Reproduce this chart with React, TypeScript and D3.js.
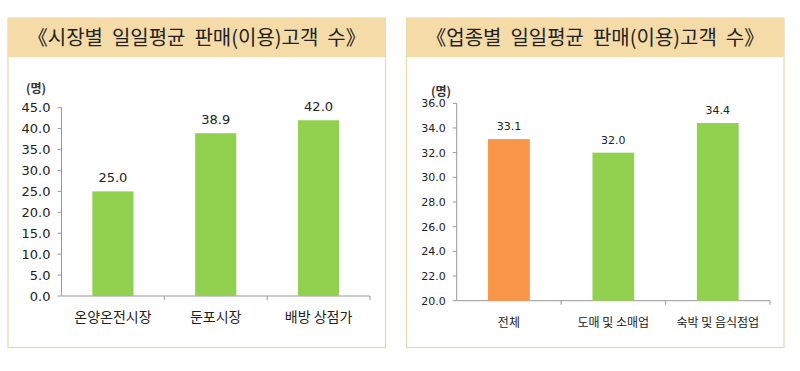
import React from "react";
import * as d3 from "d3";

const leftTitle = "《시장별  일일평균  판매(이용)고객  수》";
const leftCategories = ["온양온전시장", "둔포시장", "배방 상점가"];
const leftValues = [25.0, 38.9, 42.0];
const leftTicks = [0, 5, 10, 15, 20, 25, 30, 35, 40, 45];

const rightTitle = "《업종별  일일평균  판매(이용)고객  수》";
const rightCategories = ["전체", "도매 및 소매업", "숙박 및 음식점업"];
const rightValues = [33.1, 32.0, 34.4];
const rightTicks = [20, 22, 24, 26, 28, 30, 32, 34, 36];
const rightColors = ["#F79646", "#92D050", "#92D050"];

const KR = "'Noto Sans CJK KR', 'Noto Sans', sans-serif";
const NUM = "'DejaVu Sans', Verdana, sans-serif";

type PanelProps = {
  x0: number;
  x1: number;
  title: string;
  categories: string[];
  values: number[];
  ticks: number[];
  colors: string[];
  axisX: number;
  axisEnd: number;
  yTop: number;
  yBottom: number;
  tickFont: number;
  valFont: number;
  catFont: number;
  unitX: number;
  unitY: number;
};

function Panel(p: PanelProps) {
  const domain = [p.ticks[0], p.ticks[p.ticks.length - 1]];
  const y = d3.scaleLinear().domain(domain).range([p.yBottom, p.yTop]);
  const x = d3
    .scaleBand<string>()
    .domain(p.categories)
    .range([p.axisX, p.axisEnd])
    .paddingInner(0.6)
    .paddingOuter(0.3);
  const step = x.step();
  const bandStart = p.axisX;
  const fmt = d3.format(".1f");
  return (
    <g>
      <rect x={p.x0} y={18} width={p.x1 - p.x0} height={329.5} fill="#fff" stroke="#E9D6AA" strokeWidth={1.2} />
      <rect x={p.x0} y={18} width={p.x1 - p.x0} height={39} fill="#F5DBA8" />
      <text
        x={(p.x0 + p.x1) / 2}
        y={45}
        textAnchor="middle"
        fontFamily={KR}
        fontSize={20}
        fill="#222"
        style={{ whiteSpace: "pre" }}
      >
        {p.title}
      </text>
      <text x={p.unitX} y={p.unitY} fontFamily={KR} fontSize={12} fontWeight="bold" fill="#333">
        (명)
      </text>
      {/* y axis */}
      <line x1={p.axisX} x2={p.axisX} y1={p.yTop} y2={p.yBottom} stroke="#999" />
      {p.ticks.map((t) => (
        <g key={t}>
          <line x1={p.axisX - 4} x2={p.axisX} y1={y(t)} y2={y(t)} stroke="#999" />
          <text
            x={p.axisX - 11}
            y={y(t)}
            dy="0.35em"
            textAnchor="end"
            fontFamily={NUM}
            fontSize={p.tickFont}
            fill="#222"
          >
            {fmt(t)}
          </text>
        </g>
      ))}
      {/* x axis */}
      <line x1={p.axisX} x2={p.axisEnd} y1={p.yBottom} y2={p.yBottom} stroke="#999" />
      {p.categories.map((c, i) => (
        <line
          key={"t" + c}
          x1={bandStart + step * (i + 1)}
          x2={bandStart + step * (i + 1)}
          y1={p.yBottom}
          y2={p.yBottom + 4}
          stroke="#999"
        />
      ))}
      {p.categories.map((c, i) => {
        const bx = x(c) as number;
        const by = y(p.values[i]);
        const cx = bx + x.bandwidth() / 2;
        return (
          <g key={c}>
            <rect x={bx} y={by} width={x.bandwidth()} height={p.yBottom - by} fill={p.colors[i]} />
            <text
              x={cx}
              y={by - 9}
              textAnchor="middle"
              fontFamily={NUM}
              fontSize={p.valFont}
              fill="#222"
            >
              {fmt(p.values[i])}
            </text>
            <text
              x={cx}
              y={p.yBottom + 26}
              textAnchor="middle"
              fontFamily={KR}
              fontSize={p.catFont}
              fill="#222"
            >
              {c}
            </text>
          </g>
        );
      })}
    </g>
  );
}

export default function App() {
  return (
    <svg
      width={800}
      height={371}
      style={{ position: "absolute", left: 0, top: 0, background: "#fff" }}
    >
      <rect x={0} y={0} width={800} height={371} fill="#fff" />
      <Panel
        x0={8}
        x1={385.5}
        title={leftTitle}
        categories={leftCategories}
        values={leftValues}
        ticks={leftTicks}
        colors={leftValues.map(() => "#92D050")}
        axisX={61.5}
        axisEnd={370}
        yTop={107.7}
        yBottom={296}
        tickFont={13}
        valFont={13}
        catFont={14}
        unitX={26}
        unitY={93}
      />
      <Panel
        x0={406.5}
        x1={784}
        title={rightTitle}
        categories={rightCategories}
        values={rightValues}
        ticks={rightTicks}
        colors={rightColors}
        axisX={456.7}
        axisEnd={770}
        yTop={103.3}
        yBottom={300.7}
        tickFont={11}
        valFont={11}
        catFont={12}
        unitX={431}
        unitY={96}
      />
    </svg>
  );
}
